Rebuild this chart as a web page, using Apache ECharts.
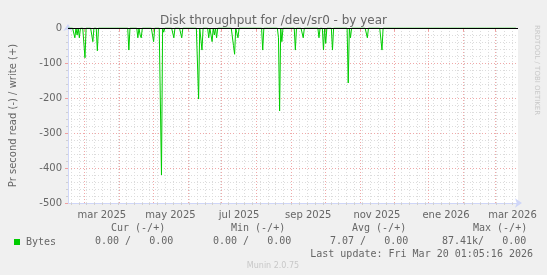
<!DOCTYPE html>
<html><head><meta charset="utf-8">
<script src="https://cdn.jsdelivr.net/npm/echarts@6/dist/echarts.min.js"></script>
<style>html,body{margin:0;padding:0;background:#f0f0f0}#c{width:547px;height:275px}</style>
</head><body><div id="c"></div>
<script>
const TITLE = 'Disk throughput for /dev/sr0 - by year';
const Y_NAME = 'Pr second read (-) / write (+)';
const WATERMARK = 'RRDTOOL / TOBI OETIKER';
const RANGE_START = '2025-02-14T10:00:00Z';
const RANGE_END = '2026-03-21T10:00:00Z';
const DATA_FIRST_DAY = '2025-02-14';
const DATA_LAST_DAY = '2026-03-19';
// days with read activity (negative = read)
const spikeDates = [
  '2025-02-20','2025-02-22','2025-02-24','2025-03-01','2025-03-08','2025-03-12',
  '2025-04-09','2025-04-17','2025-04-19','2025-04-20','2025-05-01','2025-05-08',
  '2025-05-10','2025-05-19','2025-05-26','2025-06-10','2025-06-13','2025-06-19',
  '2025-06-22','2025-06-24','2025-06-26','2025-07-11','2025-07-12','2025-07-15',
  '2025-08-06','2025-08-20','2025-08-21','2025-08-23','2025-09-04','2025-09-11',
  '2025-09-25','2025-09-29','2025-10-01','2025-10-07','2025-10-21','2025-10-23',
  '2025-11-07','2025-11-20'
];
const spikeValues = [
  -28, -20, -28, -85, -39, -65,
  -63, -28, -20, -28, -39, -420,
  -12, -28, -28, -203, -63, -28,
  -39, -20, -28, -50, -75, -28,
  -63, -28, -237, -39, -63, -28,
  -28, -63, -44, -63, -157, -28,
  -28, -63
];
const monthStarts = [
  '2025-03-01','2025-04-01','2025-05-01','2025-06-01','2025-07-01','2025-08-01',
  '2025-09-01','2025-10-01','2025-11-01','2025-12-01','2026-01-01','2026-02-01','2026-03-01'
];
const FIRST_WEEK = '2025-02-17';
const labelDates = ['2025-03-16T12:00:00Z','2025-05-16T12:00:00Z','2025-07-16T12:00:00Z',
  '2025-09-16T00:00:00Z','2025-11-16T00:00:00Z','2026-01-16T12:00:00Z','2026-03-16T12:00:00Z'];
const labelTexts = ['mar 2025','may 2025','jul 2025','sep 2025','nov 2025','ene 2026','mar 2026'];
const Y_MIN = -500, Y_MAX = 0, Y_STEP = 100;
const seriesName = 'Bytes';
const legendHeaders = ['Cur (-/+)','Min (-/+)','Avg (-/+)','Max (-/+)'];
const legendValues = ['0.00 /   0.00','0.00 /   0.00','7.07 /   0.00','87.41k/   0.00'];
const lastUpdate = 'Last update: Fri Mar 20 01:05:16 2026';
const credit = 'Munin 2.0.75';

const DAY = 86400000;
const t = s => Date.parse(s.length === 10 ? s + 'T12:00:00Z' : s);
const tMin = Date.parse(RANGE_START), tMax = Date.parse(RANGE_END);
const spikeMap = {};
spikeDates.forEach((d, i) => spikeMap[t(d)] = spikeValues[i]);
const data = [];
for (let x = t(DATA_FIRST_DAY); x <= t(DATA_LAST_DAY); x += DAY) {
  data.push([x, spikeMap[x] !== undefined ? spikeMap[x] : 0]);
}
const weekStarts = [];
for (let x = Date.parse(FIRST_WEEK + 'T00:00:00Z'); x < tMax; x += 7 * DAY) weekStarts.push(x);
const monthVals = monthStarts.map(s => Date.parse(s + 'T00:00:00Z'));
const labelVals = labelDates.map(s => Date.parse(s));
const labelMap = {};
labelVals.forEach((v, i) => labelMap[v] = labelTexts[i]);

const FONT = 'DejaVu Sans';
const MONO = 'DejaVu Sans Mono';
const FC = '#666666';
const GRID = { left: 66, right: 29, top: 28, bottom: 72 };

const graphic = [
  { type: 'text', left: 533, top: 25, rotation: -Math.PI / 2, originX: 0, originY: 0,
    style: { text: WATERMARK, font: '7px ' + FONT, fill: '#c8c8c8' } },
  { type: 'rect', shape: { x: 14, y: 239, width: 6, height: 6 }, style: { fill: '#00cc00' } },
  { type: 'text', x: 26, y: 242, style: { text: seriesName, font: '10px ' + MONO, fill: FC, textVerticalAlign: 'middle' } },
  { type: 'text', x: 533, y: 254, style: { text: lastUpdate, font: '10px ' + MONO, fill: FC, textAlign: 'right', textVerticalAlign: 'middle' } },
  { type: 'text', x: 273, y: 266, style: { text: credit, font: '8px ' + FONT, fill: '#c8c8c8', textAlign: 'center', textVerticalAlign: 'middle' } }
];
const headerX = [111, 231, 352, 473];
const valueX = [95, 213, 330, 442];
legendHeaders.forEach((h, i) => graphic.push({ type: 'text', x: headerX[i], y: 228,
  style: { text: h, font: '10px ' + MONO, fill: FC, textVerticalAlign: 'middle' } }));
legendValues.forEach((h, i) => graphic.push({ type: 'text', x: valueX[i], y: 241.5,
  style: { text: h, font: '10px ' + MONO, fill: FC, textVerticalAlign: 'middle' } }));

const chart = echarts.init(document.getElementById('c'), null, { renderer: 'canvas' });
chart.setOption({
  backgroundColor: '#f0f0f0',
  animation: false,
  title: { text: TITLE, left: 'center', top: 10,
    textStyle: { fontFamily: FONT, fontSize: 12, fontWeight: 'normal', color: FC } },
  graphic,
  grid: Object.assign({ backgroundColor: '#ffffff', show: true, borderWidth: 0 }, GRID),
  xAxis: [
    { type: 'value', min: tMin, max: tMax,
      axisLine: { show: true, onZero: false, lineStyle: { color: '#cfd6f8' }, symbol: ['none', 'arrow'], symbolSize: [7, 7], symbolOffset: [0, 4] },
      axisTick: { show: true, customValues: weekStarts, length: 2, lineStyle: { color: '#d0d0d0' } },
      splitLine: { show: true, lineStyle: { color: '#dcdcdc', type: [1, 2], width: 1 } },
      axisLabel: { customValues: labelVals, formatter: v => labelMap[v] || '', margin: 7,
        fontFamily: FONT, fontSize: 10, color: FC } },
    { type: 'value', min: tMin, max: tMax, position: 'bottom',
      axisLine: { show: false },
      axisTick: { show: true, customValues: monthVals, length: 3, lineStyle: { color: '#f0a0a0' } },
      splitLine: { show: true, lineStyle: { color: '#f0a8a8', type: [1, 2], width: 1 } },
      axisLabel: { show: false } }
  ],
  yAxis: { type: 'value', min: Y_MIN, max: Y_MAX, interval: Y_STEP,
    name: Y_NAME, nameLocation: 'middle', nameGap: 50, nameRotate: 90,
    nameTextStyle: { fontFamily: FONT, fontSize: 10, color: FC },
    axisLine: { show: true, lineStyle: { color: '#cfd6f8' }, symbol: ['none', 'arrow'], symbolSize: [7, 7], symbolOffset: [0, 4] },
    axisTick: { show: true, length: 3, lineStyle: { color: '#f0a0a0' } },
    minorTick: { show: true, splitNumber: 5, length: 2, lineStyle: { color: '#d0d0d0' } },
    splitLine: { show: true, lineStyle: { color: '#f0a8a8', type: [1, 2] } },
    minorSplitLine: { show: true, lineStyle: { color: '#dcdcdc', type: [1, 2] } },
    axisLabel: { fontFamily: FONT, fontSize: 10, color: FC, margin: 6 } },
  series: [{
    name: seriesName, type: 'line', data, showSymbol: false, symbol: 'none',
    lineStyle: { color: '#00cc00', width: 1 }, itemStyle: { color: '#00cc00' },
    silent: true, z: 3,
    markLine: { silent: true, symbol: 'none', label: { show: false },
      lineStyle: { color: '#000000', width: 1, type: 'solid' }, data: [{ yAxis: 0 }] }
  }]
});
</script></body></html>
